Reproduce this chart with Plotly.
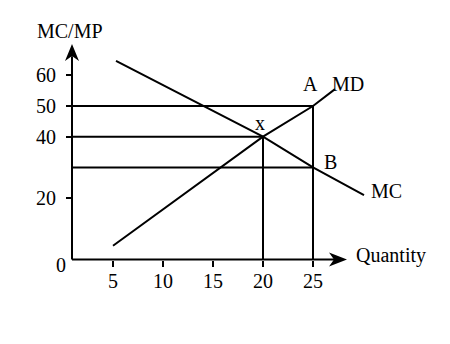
import plotly.graph_objects as go

# ---- data ----
quantity_ticks = [5, 10, 15, 20, 25]
mcmp_ticks = [20, 40, 50, 60]

md_quantity = [5, 20, 25, 27.2]
md_value = [4.5, 40, 50, 55.5]

mc_quantity = [5.3, 20, 25, 30.1]
mc_value = [64.7, 40, 30, 21.0]

# reference points / guides
pt_x = (20, 40)   # MD = MC
pt_A = (25, 50)   # on MD
pt_B = (25, 30)   # on MC

# ---- layout constants ----
W, H = 450, 344
FONT = "Liberation Serif"
x0_px, x_ppu = 63.0, 10.0       # pixel of quantity 0, pixels per unit
y0_px, y_ppu = 259.5, 3.07      # pixel of value 0, pixels per unit
axis_q = (72 - x0_px) / x_ppu   # where the vertical axis sits

xr = [(0 - x0_px) / x_ppu, (W - x0_px) / x_ppu]
yr = [(y0_px - H) / y_ppu, y0_px / y_ppu]

fig = go.Figure()
line_style = dict(color="black", width=2)

fig.add_trace(go.Scatter(x=md_quantity, y=md_value, mode="lines", line=line_style, hoverinfo="skip"))
fig.add_trace(go.Scatter(x=mc_quantity, y=mc_value, mode="lines", line=line_style, hoverinfo="skip"))

# guide lines
guides = [
    ([axis_q, pt_A[0]], [pt_A[1], pt_A[1]]),
    ([axis_q, pt_x[0]], [pt_x[1], pt_x[1]]),
    ([axis_q, pt_B[0]], [pt_B[1], pt_B[1]]),
    ([pt_x[0], pt_x[0]], [0, pt_x[1]]),
    ([pt_A[0], pt_A[0]], [0, pt_A[1]]),
]
for gx, gy in guides:
    fig.add_trace(go.Scatter(x=gx, y=gy, mode="lines", line=line_style, hoverinfo="skip"))

# axes lines
x_tip = (347 - x0_px) / x_ppu
y_tip = (y0_px - 44) / y_ppu
shapes = [
    dict(type="line", xref="x", yref="y", x0=axis_q, y0=0, x1=x_tip - 1.3, y1=0,
         line=dict(color="black", width=2)),
    dict(type="line", xref="x", yref="y", x0=axis_q, y0=0, x1=axis_q, y1=y_tip - 4,
         line=dict(color="black", width=2)),
    dict(type="path", xref="x", yref="y", xsizemode="pixel", ysizemode="pixel",
         xanchor=axis_q, yanchor=y_tip, path="M0,0 L-7,-17 L0,-12 L7,-17 Z",
         fillcolor="black", line=dict(width=0)),
    dict(type="path", xref="x", yref="y", xsizemode="pixel", ysizemode="pixel",
         xanchor=x_tip, yanchor=0, path="M0,0 L-18,7 L-13,0 L-18,-7 Z",
         fillcolor="black", line=dict(width=0)),
]

def px2q(px):
    return (px - x0_px) / x_ppu

def px2v(py):
    return (y0_px - py) / y_ppu

annots = [
    ("MC/MP", 70, 31, 20, "center"),
    ("Quantity", 354, 255, 20, "left"),
    ("A", 310, 84, 20, "center"),
    ("MD", 348, 84, 20, "center"),
    ("x", 260, 123, 20, "center"),
    ("B", 330, 162, 20, "center"),
    ("MC", 386, 191, 20, "center"),
    ("0", 61, 265, 20, "center"),
]
annotations = [
    dict(text=t, x=px2q(px), y=px2v(py), xref="x", yref="y", showarrow=False,
         xanchor=xa, yanchor="middle", font=dict(family=FONT, size=fs, color="black"))
    for t, px, py, fs, xa in annots
]

fig.update_layout(
    width=W, height=H, margin=dict(l=0, r=0, t=0, b=0),
    paper_bgcolor="white", plot_bgcolor="white", showlegend=False,
    template="none",
    shapes=shapes, annotations=annotations,
    xaxis=dict(range=xr, domain=[0, 1], anchor="free", position=(H - y0_px) / H,
               tickmode="array", tickvals=quantity_ticks, ticktext=[str(v) for v in quantity_ticks],
               ticks="outside", ticklen=6, tickwidth=2, tickcolor="black",
               ticklabelstandoff=-3,
               showline=False, showgrid=False, zeroline=False, automargin=False,
               tickfont=dict(family=FONT, size=20, color="black"), fixedrange=True),
    yaxis=dict(range=yr, domain=[0, 1], anchor="free", position=72 / W,
               tickmode="array", tickvals=mcmp_ticks, ticktext=[str(v) for v in mcmp_ticks],
               ticks="outside", ticklen=6, tickwidth=2, tickcolor="black",
               ticklabelstandoff=6,
               showline=False, showgrid=False, zeroline=False, automargin=False,
               tickfont=dict(family=FONT, size=20, color="black"), fixedrange=True),
)

fig.write_html("out.html", config={"displayModeBar": False})
